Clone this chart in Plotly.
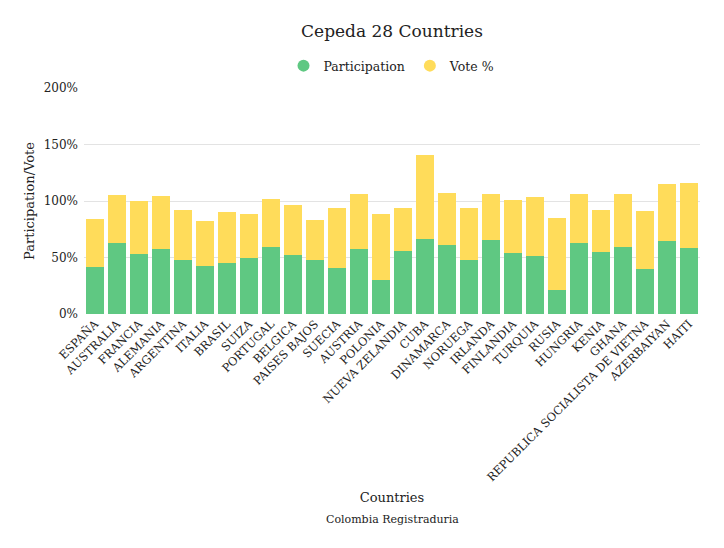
import plotly.graph_objects as go

countries = ["ESPAÑA", "AUSTRALIA", "FRANCIA", "ALEMANIA", "ARGENTINA", "ITALIA", "BRASIL",
             "SUIZA", "PORTUGAL", "BELGICA", "PAISES BAJOS", "SUECIA", "AUSTRIA", "POLONIA",
             "NUEVA ZELANDIA", "CUBA", "DINAMARCA", "NORUEGA", "IRLANDA", "FINLANDIA",
             "TURQUIA", "RUSIA", "HUNGRIA", "KENIA", "GHANA",
             "REPUBLICA SOCIALISTA DE VIETNA", "AZERBAIYAN", "HAITI"]

participation = [41.8, 62.6, 52.9, 57.4, 48.2, 42.6, 45.3, 49.4, 59.7, 52.4, 47.9, 40.3, 57.4,
                 29.7, 55.6, 66.5, 61.5, 47.9, 65.6, 54.4, 51.2, 21.5, 62.9, 55.0, 59.4,
                 39.4, 64.7, 58.5]

vote = [42.0, 42.4, 47.1, 46.7, 43.6, 39.5, 45.3, 39.1, 41.8, 43.8, 35.6, 53.8, 48.5,
        58.5, 37.9, 73.8, 45.9, 45.6, 40.9, 46.8, 52.6, 63.2, 43.0, 37.1, 46.5,
        51.8, 50.0, 57.1]

GREEN = "#5fc882"
YELLOW = "#ffdc5a"
FONT = "DejaVu Serif"
H = 548
T, B = 88, 234
PH = H - T - B

fig = go.Figure()
fig.add_trace(go.Bar(x=countries, y=participation, name="Participation",
                     marker=dict(color=GREEN, line=dict(width=0)), showlegend=False))
fig.add_trace(go.Bar(x=countries, y=vote, name="Vote %",
                     marker=dict(color=YELLOW, line=dict(width=0)), showlegend=False))
# legend entries with round markers
fig.add_trace(go.Scatter(x=[None], y=[None], mode="markers", name="Participation",
                         marker=dict(color=GREEN, size=12, symbol="circle")))
fig.add_trace(go.Scatter(x=[None], y=[None], mode="markers", name="Vote %",
                         marker=dict(color=YELLOW, size=12, symbol="circle")))

fig.update_layout(
    width=724, height=H,
    barmode="stack", bargap=0.18,
    plot_bgcolor="white", paper_bgcolor="white",
    font=dict(family=FONT, color="#222222", size=12),
    margin=dict(l=84, r=24, t=T, b=B),
    title=dict(text="Cepeda 28 Countries", x=0.5, xref="paper", xanchor="center",
               y=1 - 31 / H, yref="container", yanchor="middle",
               font=dict(family=FONT, size=17, color="#222222")),
    legend=dict(orientation="h", x=0.5, xanchor="center", y=1 - 66 / H, yref="container",
                yanchor="middle", traceorder="normal",
                font=dict(family=FONT, size=12.5, color="#222222"),
                itemsizing="constant"),
    xaxis=dict(tickangle=-45, tickfont=dict(family=FONT, size=11.5, color="#222222"),
               showgrid=False, showline=False, ticks="",
               title=dict(text="Countries", font=dict(family=FONT, size=13), standoff=9)),
    yaxis=dict(range=[0, 200], dtick=50, ticksuffix="%", showgrid=True,
               gridcolor="#e3e3e3", gridwidth=1, zeroline=False, showline=False, ticks="",
               ticklabelstandoff=5,
               tickfont=dict(family=FONT, size=12, color="#222222"),
               title=dict(text="Participation/Vote", font=dict(family=FONT, size=13), standoff=6)),
    annotations=[dict(text="Colombia Registraduria", x=0.5, xref="paper", xanchor="center",
                      y=(H - B - 519) / PH, yref="paper", yanchor="middle", showarrow=False,
                      font=dict(family=FONT, size=11, color="#222222"))],
)
fig.update_yaxes(automargin=False)
fig.update_xaxes(automargin=False)

fig.write_html("out.html")
